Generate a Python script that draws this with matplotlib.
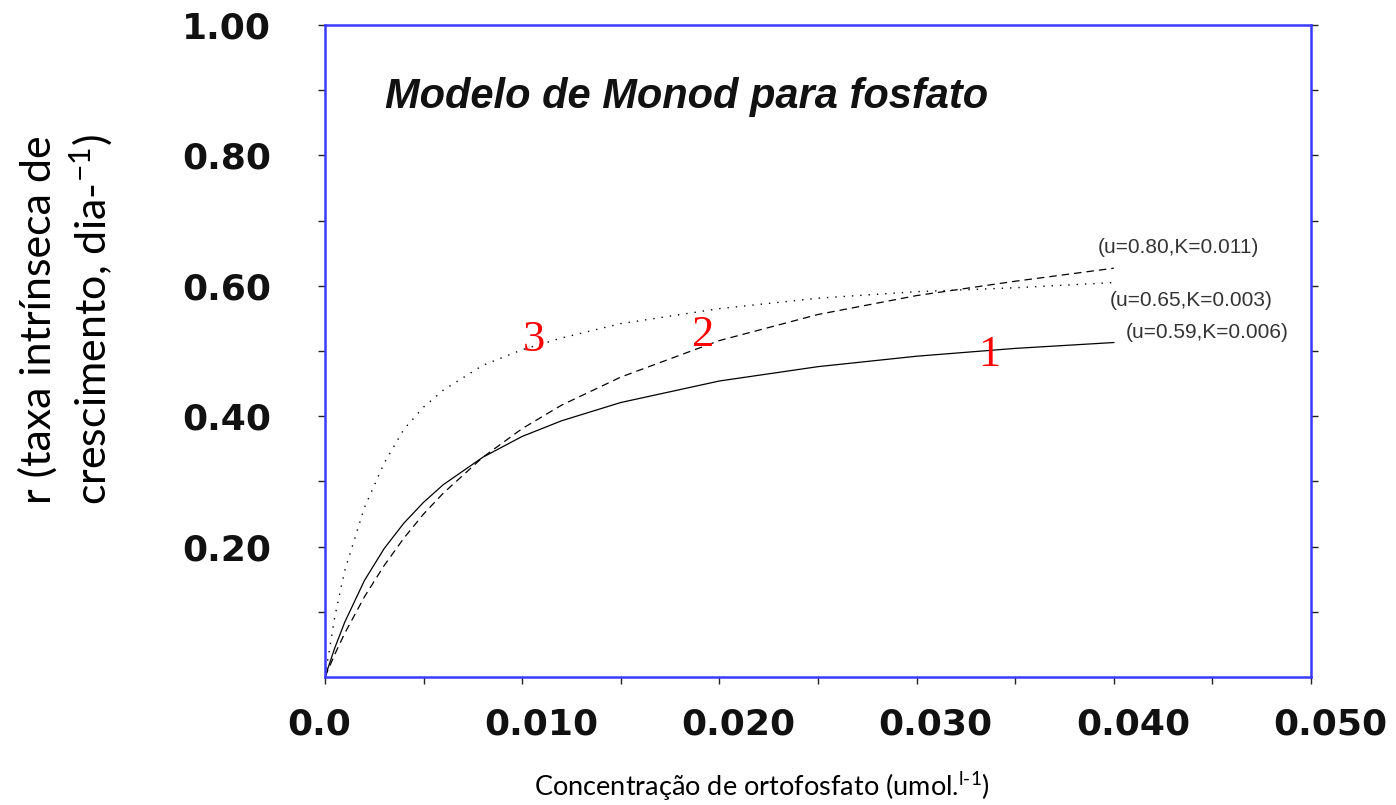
import numpy as np
import matplotlib
matplotlib.use('Agg')
import matplotlib.pyplot as plt
import matplotlib.transforms as mtransforms

plt.rcParams['mathtext.fontset'] = 'custom'
plt.rcParams['mathtext.rm'] = 'Lato'
plt.rcParams['mathtext.it'] = 'Lato:italic'

# ── Data ───────────────────────────────────────────────────────────
conc = [0.0, 0.0005, 0.001, 0.002, 0.003, 0.004, 0.005, 0.006, 0.008,
        0.010, 0.012, 0.015, 0.020, 0.025, 0.030, 0.035, 0.040]
r_curve1 = [0.0, 0.045, 0.084, 0.148, 0.197, 0.236, 0.268, 0.295, 0.337,
            0.369, 0.393, 0.421, 0.454, 0.476, 0.492, 0.504, 0.513]
r_curve2 = [0.0, 0.035, 0.067, 0.123, 0.171, 0.213, 0.250, 0.282, 0.337,
            0.381, 0.417, 0.460, 0.516, 0.556, 0.585, 0.607, 0.627]
r_curve3 = [0.0, 0.093, 0.163, 0.260, 0.328, 0.380, 0.414, 0.440, 0.478,
            0.502, 0.520, 0.542, 0.565, 0.581, 0.591, 0.597, 0.605]

curve_names = ['1', '2', '3']
curve_name_pos = [(0.0337, 0.494), (0.0192, 0.525), (0.0106, 0.517)]
param_labels = ['(u=0.59,K=0.006)', '(u=0.80,K=0.011)', '(u=0.65,K=0.003)']
param_pos = [(0.0406, 0.528), (0.0392, 0.658), (0.0398, 0.578)]

x_ticks = [0.0, 0.010, 0.020, 0.030, 0.040, 0.050]
x_tick_labels = ['0.0', '0.010', '0.020', '0.030', '0.040', '0.050']
y_ticks = [0.2, 0.4, 0.6, 0.8, 1.0]
y_tick_labels = ['0.20', '0.40', '0.60', '0.80', '1.00']

# ── Figure ─────────────────────────────────────────────────────────
fig = plt.figure(figsize=(13.96, 8.05), dpi=100)
ax = fig.add_axes([325/1396, 128/805, 986/1396, 652/805])

ax.plot(conc, r_curve1, color='black', lw=0.9, linestyle='-')
ax.plot(conc, r_curve2, color='black', lw=0.9, linestyle=(0, (6, 4)))
ax.plot(conc, r_curve3, color='black', lw=1.0, linestyle=(0, (1, 5)))

for name, (px, py) in zip(curve_names, curve_name_pos):
    ax.text(px, py, name, color='red', fontsize=32, family='Liberation Serif',
            ha='center', va='center')

for lab, (px, py) in zip(param_labels, param_pos):
    ax.text(px, py, lab, color='#333333', fontsize=15,
            family='Liberation Sans', ha='left', va='center')

ax.text(0.00304, 0.889, 'Modelo de Monod para fosfato', fontsize=30,
        fontweight='bold', fontstyle='italic', family='Liberation Sans',
        ha='left', va='center', color='#111111')

ax.set_xlim(0, 0.05)
ax.set_ylim(0, 1.0)

ax.set_xticks(x_ticks)
ax.set_xticklabels(x_tick_labels)
ax.set_xticks(np.arange(0, 0.0501, 0.005), minor=True)
ax.set_yticks(y_ticks)
ax.set_yticklabels(y_tick_labels)
ax.set_yticks(np.arange(0.1, 1.0, 0.2), minor=True)

ax.tick_params(axis='both', which='both', direction='out', length=5,
               width=1, color='#222222')
ax.tick_params(axis='y', which='both', right=True)
ax.tick_params(axis='x', which='major', pad=17)
ax.tick_params(axis='y', which='major', pad=34)

for lab in ax.get_xticklabels() + ax.get_yticklabels():
    lab.set_family('DejaVu Sans')
    lab.set_fontweight('bold')
    lab.set_fontsize(26)
    lab.set_color('#111111')

# x tick labels start a little left of their ticks in the original
offset = mtransforms.ScaledTranslation(-38/100, 0, fig.dpi_scale_trans)
for lab in ax.get_xticklabels():
    lab.set_horizontalalignment('left')
    lab.set_transform(lab.get_transform() + offset)

for sp in ax.spines.values():
    sp.set_color('#3b3bff')
    sp.set_linewidth(1.8)

fig.text(67/1396, 1 - 320/805,
         'r (taxa intrínseca de\ncrescimento, dia-$^{-1}$)',
         rotation=90, ha='center', va='center', multialignment='center',
         fontsize=31, family='Lato', linespacing=1.26)

fig.text(762/1396, 1 - 787/805,
         'Concentração de ortofosfato (umol.$^{\\mathrm{l}\\text{-}1}$)',
         ha='center', va='center', fontsize=19.5, family='Lato')

fig.savefig('out.png', dpi=100)
